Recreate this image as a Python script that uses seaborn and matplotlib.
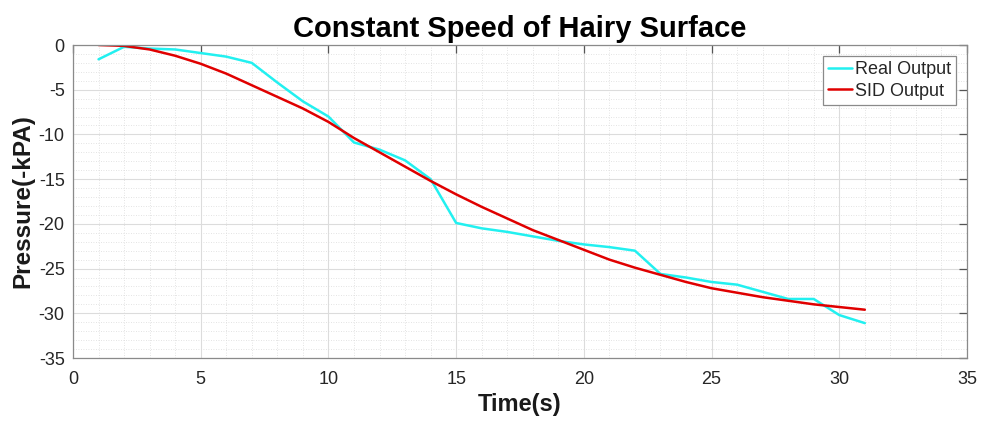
import numpy as np
import pandas as pd
import seaborn as sns
import matplotlib
matplotlib.use("Agg")
import matplotlib.pyplot as plt
from matplotlib.ticker import MultipleLocator

time_s = list(range(1, 32))
real_output = [-1.6, -0.2, -0.4, -0.5, -0.9, -1.3, -2.0, -4.2, -6.3, -8.0,
               -10.9, -11.7, -12.9, -15.0, -19.9, -20.5, -20.9, -21.4, -21.9, -22.3,
               -22.6, -23.0, -25.6, -26.0, -26.5, -26.8, -27.6, -28.4, -28.4, -30.2,
               -31.1]
sid_output = [0.0, -0.1, -0.5, -1.2, -2.1, -3.2, -4.5, -5.8, -7.1, -8.6,
              -10.4, -12.0, -13.6, -15.2, -16.7, -18.1, -19.4, -20.7, -21.8, -22.9,
              -24.0, -24.9, -25.7, -26.5, -27.2, -27.7, -28.2, -28.6, -29.0, -29.3,
              -29.6]
series_names = ["Real Output", "SID Output"]
series_colors = ["#22F0F0", "#E00000"]

df = pd.DataFrame({
    "Time": time_s * 2,
    "Pressure": real_output + sid_output,
    "Series": [series_names[0]] * len(time_s) + [series_names[1]] * len(time_s),
})

sns.set_style("white")
plt.rcParams["font.family"] = ["Liberation Sans", "DejaVu Sans"]
plt.rcParams["axes.unicode_minus"] = False

fig = plt.figure(figsize=(9.82, 4.23), dpi=100)
ax = fig.add_axes([73 / 982, 1 - 358 / 423, (967 - 73) / 982, (358 - 45) / 423])

sns.lineplot(data=df, x="Time", y="Pressure", hue="Series",
             palette=dict(zip(series_names, series_colors)), linewidth=1.8,
             ax=ax, legend=True)

ax.set_xlim(0, 35)
ax.set_ylim(-35, 0)
ax.xaxis.set_major_locator(MultipleLocator(5))
ax.yaxis.set_major_locator(MultipleLocator(5))
ax.xaxis.set_minor_locator(MultipleLocator(1))
ax.yaxis.set_minor_locator(MultipleLocator(1))
ax.grid(True, which="major", color="#DCDCDC", linewidth=0.8, linestyle="-")
ax.grid(True, which="minor", color="#DADADA", linewidth=0.6, linestyle=(0, (1, 2)))
ax.set_axisbelow(True)

for s in ax.spines.values():
    s.set_visible(True)
    s.set_color("#8A8A8A")
    s.set_linewidth(0.9)

ax.tick_params(axis="both", which="major", direction="in", length=6, width=0.9,
               color="#555555", labelsize=13, top=True, right=True,
               labelcolor="#262626", pad=6)
ax.tick_params(axis="x", which="major", pad=9)
ax.tick_params(axis="both", which="minor", length=0, top=True, right=True)

ax.set_xlabel("Time(s)", fontsize=17, fontweight="bold", color="#1a1a1a", labelpad=4)
ax.set_ylabel("Pressure(-kPA)", fontsize=17.5, fontweight="bold", color="#1a1a1a", labelpad=3)
ax.set_title("Constant Speed of Hairy Surface", fontsize=21, fontweight="bold",
             color="#000000", pad=6)

leg = ax.legend(loc="upper right", fontsize=13, frameon=True, fancybox=False,
                handlelength=1.3, handletextpad=0.15, borderpad=0.3,
                labelspacing=0.25, borderaxespad=0.6)
leg.get_frame().set_edgecolor("#8A8A8A")
leg.get_frame().set_linewidth(0.9)
leg.get_frame().set_alpha(1.0)

fig.savefig("out.png", dpi=100)
